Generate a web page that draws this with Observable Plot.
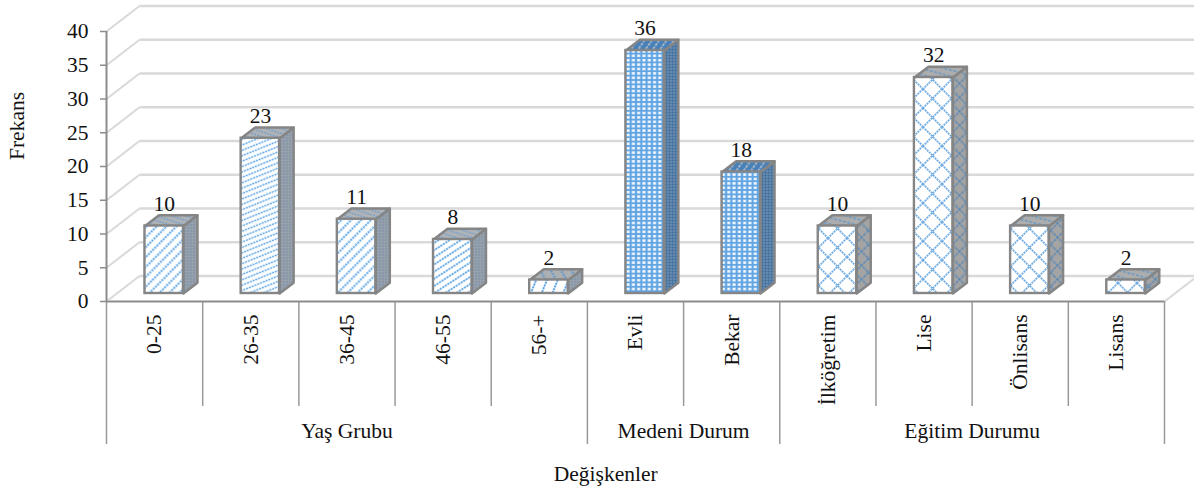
<!DOCTYPE html>
<html><head><meta charset="utf-8">
<script src="https://cdn.jsdelivr.net/npm/d3@7"></script>
<script src="https://cdn.jsdelivr.net/npm/@observablehq/plot@0.6"></script>
<style>html,body{margin:0;padding:0;background:#fff}svg{display:block}</style>
</head><body><div id="chart"></div>
<script>
// Data
const categories = ["0-25","26-35","36-45","46-55","56-+","Evli","Bekar","İlköğretim","Lise","Önlisans","Lisans"];
const values = [10,23,11,8,2,36,18,10,32,10,2];
const groupNames = ["Yaş Grubu","Medeni Durum","Eğitim Durumu"];
const groupSizes = [5,2,4];
const yTicks = [0,5,10,15,20,25,30,35,40];

// Oblique projection, in scale units
const wallX = 0.343, wallY = 3.77;
const barOffset = 0.4, barWidth = 0.4, barDepthX = 0.146, barDepthY = 1.6, lift = -8;
const axisGray = "#8c8c8c", gridGray = "#d9d9d9", barGray = "#858585";
const font = "'Liberation Serif', 'Times New Roman', serif";
const fs = 21.5;

const bars = values.map((v,i)=>({i,v,cat:categories[i]}));
const frontPat = ["diagA","diagB","diagA","diagC","diagD","dotsF","dotsF","crossF1","crossF2","crossF3","crossF4"];
const sidePat  = ["fineS","fineS","fineS","fineS","fineS","dotsS","dotsS","crossS","crossS","crossS","crossS"];
const topPat   = ["stripT","stripT","stripT","stripT","stripT2","dotsT","dotsT","crossT","crossT","crossT","crossT"];

let acc = 0;
const groupEdges = [0];
const groups = groupNames.map((name,k)=>{const a=acc; acc+=groupSizes[k]; groupEdges.push(acc); return {name,mid:(a+acc)/2};});
const shortSeps = d3.range(0,12).filter(i=>!groupEdges.includes(i));

function face(d, kind){
  const x1=d.i+barOffset, x2=x1+barWidth, h=d.v, dx=barDepthX, dy=barDepthY;
  const pts = kind==="side"
    ? [[x2,0],[x2+dx,dy],[x2+dx,h+dy],[x2,h],[x2,0]]
    : [[x1,h],[x2,h],[x2+dx,h+dy],[x1+dx,h+dy],[x1,h]];
  return pts.map(([x,y])=>({x,y,id:kind+d.i}));
}
function faceMarks(kind, pats){
  return bars.map((d,k)=>Plot.line(face(d,kind),{x:"x",y:"y",z:"id",fill:`url(#${pats[k]})`,stroke:barGray,strokeWidth:2.4,dy:lift,strokeLinejoin:"round"}));
}

function pat(id,bg,fg,angle,gap,sw,dash,per){
  return `<pattern id="${id}" patternUnits="userSpaceOnUse" width="${per}" height="${gap}" patternTransform="rotate(${angle})">
  <rect width="${per}" height="${gap}" fill="${bg}"/>
  <line x1="0" x2="${per}" y1="${gap/2}" y2="${gap/2}" stroke="${fg}" stroke-width="${sw}" stroke-dasharray="${dash}"/></pattern>`;
}
function dots(id,bg,fg,px,py,sx,sy){
  return `<pattern id="${id}" patternUnits="userSpaceOnUse" width="${px}" height="${py}"><rect width="${px}" height="${py}" fill="${bg}"/><rect x="${(px-sx)/2}" y="${(py-sy)/2}" width="${sx}" height="${sy}" fill="${fg}"/></pattern>`;
}
function cross(id,bg,fg,p,sw,dash,tx=0,ty=0){
  return `<pattern id="${id}" patternUnits="userSpaceOnUse" width="${p}" height="${p}" patternTransform="translate(${tx},${ty})"><rect width="${p}" height="${p}" fill="${bg}"/>
  <path d="M0 0L${p} ${p}M${p} 0L0 ${p}" stroke="${fg}" stroke-width="${sw}" stroke-dasharray="${dash}" fill="none"/></pattern>`;
}
const defs = () => {
  const g = d3.create("svg:defs");
  g.html([
    pat("diagA","#fff","#62a8e6",-45,7,1.9,"2.2 0.8",3),
    pat("diagB","#fff","#62a8e6",-22,5,1.5,"2.2 0.8",3),
    pat("diagC","#fff","#62a8e6",-33,6,1.8,"2.2 0.8",3),
    pat("diagD","#fff","#62a8e6",-68,10,2,"2.2 0.8",3),
    dots("fineS","#a3a5a8","#5f88b0",3,3,1.6,1.6),
    pat("stripT","#b0b3b6","#6f9fce",18,4.5,1.4,"2 1",3),
    pat("stripT2","#adb0b3","#5f96cc",60,9,2,"2 1",3),
    dots("dotsF","#62a5e3","#f5f9fe",5.3,4.4,3,2.5),
    dots("dotsS","#3f6f9f","#a8b6c4",3,3,1.4,1.4),
    pat("dotsT","#4a80b8","#b8c2cb",-55,6,1.5,"3 1",4),
    cross("crossF1","#fff","#74aee3",19,1.8,"2 0.8",11,18),
    cross("crossF2","#fff","#74aee3",19,1.8,"2 0.8",11,2),
    cross("crossF3","#fff","#74aee3",19,1.8,"2 0.8",13,18),
    cross("crossF4","#fff","#74aee3",19,1.8,"2 0.8",16,6),
    cross("crossS","#a4a4a4","#4f84b8",14,1.3,"3 1"),
    pat("crossT","#adadad","#5e97cc",15,6,1.4,"3 1.5",4.5)
  ].join(""));
  return g.node();
};

const plot = Plot.plot({
  width:1194, height:490,
  marginLeft:106, marginRight:30, marginTop:31, marginBottom:189,
  x:{domain:[0,11],axis:null},
  y:{domain:[0,40],axis:null},
  style:{fontFamily:font,background:"#fff",color:"#111"},
  marks:[
    defs,
    // back wall and side wall gridlines
    Plot.link(yTicks,{x1:wallX,x2:11+wallX,y1:d=>d+wallY,y2:d=>d+wallY,stroke:gridGray,strokeWidth:2.4}),
    Plot.link(yTicks,{x1:0,x2:wallX,y1:d=>d,y2:d=>d+wallY,stroke:gridGray,strokeWidth:2}),
    Plot.link([0],{x1:11,x2:11+wallX,y1:0,y2:wallY,stroke:gridGray,strokeWidth:2}),
    Plot.ruleY([0],{x1:0,x2:11,stroke:gridGray,strokeWidth:3}),
    // axis lines and separators
    Plot.ruleX(groupEdges,{y1:0,y2:0,stroke:"#999",strokeWidth:1.5,insetBottom:-143}),
    Plot.ruleX(shortSeps,{y1:0,y2:0,stroke:"#999",strokeWidth:1.5,insetBottom:-105}),
    Plot.ruleX([0],{y1:0,y2:40,stroke:axisGray,strokeWidth:2}),
    Plot.ruleY([0],{x1:0,x2:11,stroke:axisGray,strokeWidth:1.5}),
    Plot.axisY({ticks:yTicks,anchor:"left",tickSize:6,tickPadding:12,fontSize:fs,stroke:axisGray,strokeWidth:1.5,fill:"#111",label:null,tickFormat:d=>d}),
    // bars
    ...faceMarks("side",sidePat),
    ...faceMarks("top",topPat),
    ...bars.map((d,k)=>Plot.rect([d],{x1:d=>d.i+barOffset,x2:d=>d.i+barOffset+barWidth,y1:0,y2:"v",fill:`url(#${frontPat[k]})`,stroke:barGray,strokeWidth:2.4,dy:lift})),
    // value labels
    Plot.text(bars,{x:d=>d.i+barOffset+barWidth/2,y:"v",text:d=>String(d.v),fontSize:fs,dy:lift-22,fill:"#111"}),
    // category labels
    Plot.text(bars,{x:d=>d.i+0.5,y:0,text:"cat",rotate:-90,textAnchor:"end",lineAnchor:"middle",fontSize:fs,dy:13,fill:"#111"}),
    Plot.text(groups,{x:"mid",y:0,text:"name",fontSize:fs,dy:130,fill:"#111"}),
    // axis titles
    Plot.text(["Frekans"],{x:0,y:26,text:d=>d,rotate:-90,fontSize:fs,dx:-89,fill:"#111"}),
    Plot.text(["Değişkenler"],{x:5.19,y:0,text:d=>d,fontSize:fs,dy:173,fill:"#111"})
  ]
});
document.getElementById("chart").append(plot);
</script></body></html>
